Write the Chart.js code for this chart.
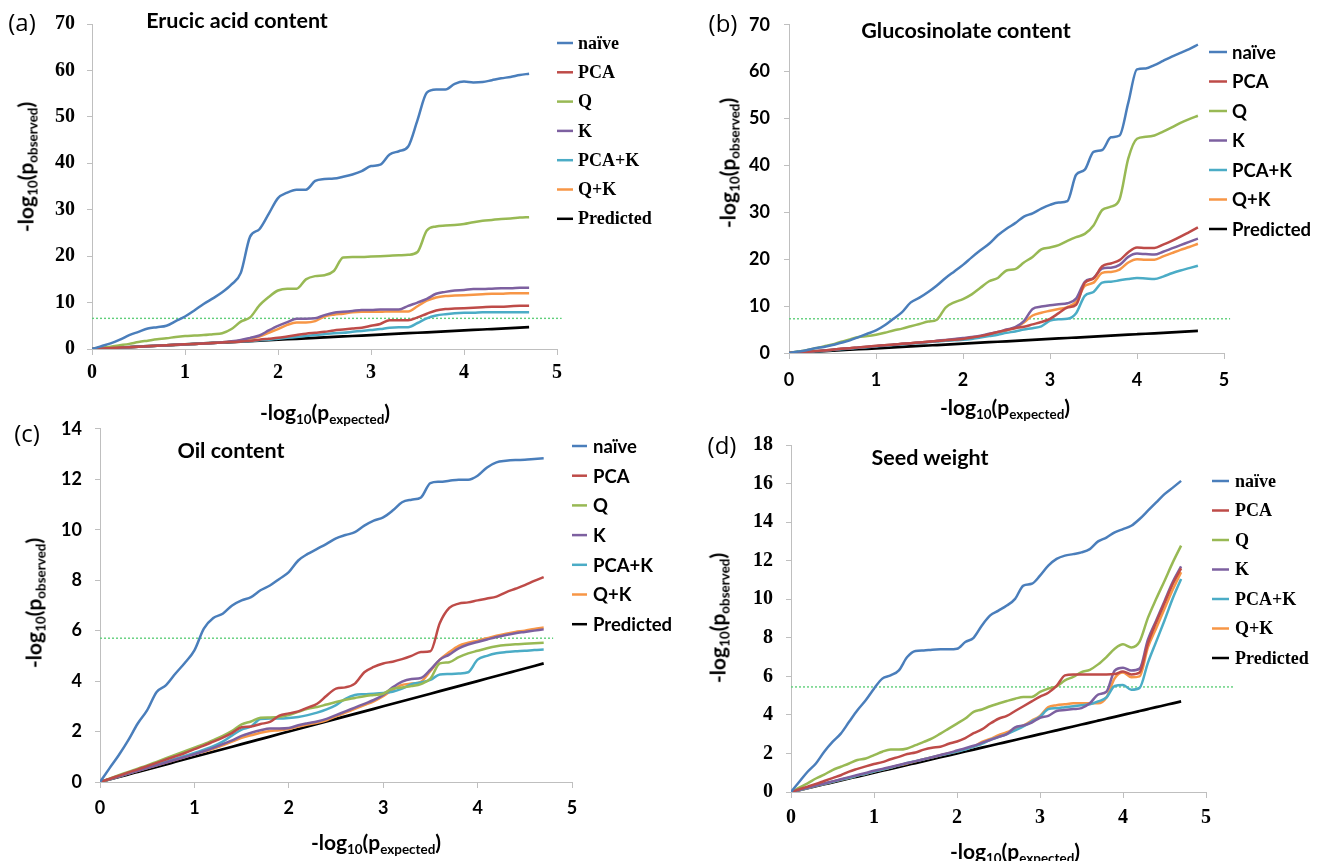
<!DOCTYPE html>
<html>
<head>
<meta charset="utf-8">
<script src="https://cdn.jsdelivr.net/npm/chart.js@4.4.1/dist/chart.umd.min.js"></script>
<style>
  html, body { margin:0; padding:0; background:#fff; }
  #page { position:relative; width:1328px; height:861px; overflow:hidden; background:#fff; }
  canvas { position:absolute; }
  .txt { position:absolute; white-space:nowrap; color:#000; transform:translate(-50%,-50%); }
  .plabel { font-family:"Open Sans","DejaVu Sans",sans-serif; font-size:24px; }
  .ptitle { font-family:Lato,"Open Sans",sans-serif; font-weight:bold; font-size:21.5px; }
  .atitle { font-family:Lato,"Open Sans",sans-serif; font-weight:bold; font-size:21px; }
  .rot { transform:translate(-50%,-50%) rotate(-90deg); }
  .sb { font-size:0.64em; position:relative; top:0.32em; }
</style>
</head>
<body>
<div id="page"></div>
<script>
// ---------- data ----------
const xExpected = [0,0.1,0.2,0.3,0.4,0.5,0.6,0.7,0.8,0.9,1.0,1.1,1.2,1.3,1.4,1.5,1.6,1.7,1.8,1.9,2.0,2.1,2.2,2.3,2.4,2.5,2.6,2.7,2.8,2.9,3.0,3.1,3.2,3.3,3.4,3.5,3.6,3.7,3.8,3.9,4.0,4.1,4.2,4.3,4.4,4.5,4.6,4.7];
const predicted = [0,0.1,0.2,0.3,0.4,0.5,0.6,0.7,0.8,0.9,1.0,1.1,1.2,1.3,1.4,1.5,1.6,1.7,1.8,1.9,2.0,2.1,2.2,2.3,2.4,2.5,2.6,2.7,2.8,2.9,3.0,3.1,3.2,3.3,3.4,3.5,3.6,3.7,3.8,3.9,4.0,4.1,4.2,4.3,4.4,4.5,4.6,4.7];
const seriesNames = ["naïve","PCA","Q","K","PCA+K","Q+K","Predicted"];

// (a) Erucic acid content
const erucicNaive = [0,0.6,1.2,2.0,3.0,3.7,4.4,4.7,5.0,6.0,7.0,8.3,9.7,10.9,12.2,13.9,16.4,24.2,25.8,29.1,32.5,33.7,34.3,34.3,36.2,36.6,36.7,37.1,37.6,38.3,39.4,39.7,41.9,42.6,43.6,49.3,55.2,55.9,55.9,57.1,57.6,57.4,57.5,57.9,58.3,58.6,59.0,59.3];
const erucicPCA   = [0,0.1,0.2,0.3,0.4,0.5,0.6,0.7,0.8,0.9,1.0,1.1,1.2,1.3,1.4,1.5,1.6,1.75,2.0,2.2,2.4,2.7,3.0,3.3,3.5,3.7,4.0,4.2,4.4,4.6,5.0,5.4,6.2,6.2,6.2,6.8,7.6,8.3,8.6,8.7,8.8,8.9,9.0,9.1,9.1,9.2,9.3,9.3];
const erucicQ     = [0,0.3,0.5,0.8,1.1,1.5,1.8,2.1,2.3,2.6,2.8,2.9,3.0,3.2,3.4,4.3,5.9,6.8,9.4,11.2,12.6,13.0,13.0,15.0,15.7,15.9,16.8,19.7,19.8,19.8,19.9,20.0,20.1,20.2,20.3,20.9,25.5,26.4,26.6,26.7,26.9,27.3,27.6,27.8,28.0,28.1,28.3,28.4];
const erucicK     = [0,0.1,0.2,0.3,0.4,0.5,0.6,0.7,0.8,0.9,1.0,1.1,1.2,1.3,1.45,1.65,1.95,2.4,2.9,4.0,5.0,5.8,6.5,6.5,6.6,7.3,7.8,8.0,8.2,8.4,8.4,8.5,8.5,8.5,9.3,10.0,10.8,11.9,12.3,12.6,12.7,12.9,12.9,13.0,13.1,13.1,13.2,13.2];
const erucicPCAK  = [0,0.1,0.2,0.3,0.4,0.5,0.6,0.7,0.8,0.9,1.0,1.1,1.2,1.3,1.4,1.5,1.6,1.7,1.9,2.0,2.2,2.4,2.6,2.8,3.0,3.2,3.4,3.5,3.7,3.9,4.1,4.3,4.6,4.7,4.7,5.6,6.6,7.2,7.5,7.7,7.8,7.8,7.9,7.9,7.9,7.9,7.9,7.9];
const erucicQK    = [0,0.1,0.2,0.3,0.4,0.5,0.6,0.7,0.8,0.9,1.0,1.1,1.2,1.3,1.45,1.6,1.85,2.2,2.7,3.5,4.3,5.2,5.7,5.7,6.0,7.0,7.4,7.6,7.9,8.0,8.0,8.0,8.1,8.1,8.1,9.2,10.4,11.1,11.4,11.5,11.6,11.7,11.8,11.9,11.9,12.0,12.0,12.0];
const erucicThreshold = [6.6, 6.6];
const erucicThresholdX = [0, 5.05];

// (b) Glucosinolate content
const glucoNaive = [0,0.3,0.6,1.0,1.3,1.7,2.2,2.7,3.4,4.1,4.8,5.9,7.3,8.7,10.8,11.8,13.0,14.4,16.0,17.4,18.8,20.4,21.9,23.3,25.1,26.5,27.7,29.1,29.8,30.8,31.6,32.1,32.4,38.0,39.1,42.9,43.3,46.0,46.4,53.4,60.5,60.7,61.4,62.3,63.2,64.0,64.8,65.8];
const glucoPCA   = [0,0.1,0.25,0.4,0.55,0.7,0.9,1.0,1.2,1.35,1.5,1.65,1.8,1.95,2.1,2.25,2.4,2.55,2.7,2.85,3.0,3.3,3.6,4.0,4.5,4.9,5.3,5.6,6.1,6.6,7.3,8.5,9.7,10.3,15.0,15.9,18.5,19.1,19.8,21.5,22.5,22.4,22.4,23.1,23.9,24.8,25.8,26.8];
const glucoQ     = [0,0.3,0.6,1.0,1.4,1.8,2.4,2.9,3.4,3.6,3.9,4.3,4.8,5.2,5.7,6.2,6.7,7.1,9.7,10.8,11.5,12.5,13.9,15.3,16.0,17.6,17.9,19.3,20.5,22.1,22.5,23.0,23.9,24.7,25.4,27.2,30.5,31.2,32.8,41.5,45.7,46.1,46.4,47.2,48.1,49.1,49.9,50.6];
const glucoK     = [0,0.1,0.25,0.4,0.55,0.7,0.9,1.0,1.2,1.35,1.5,1.65,1.8,1.95,2.1,2.25,2.4,2.6,2.8,3.0,3.2,3.4,3.7,4.1,4.5,5.0,5.5,6.8,9.4,9.9,10.2,10.4,10.6,11.6,15.2,16.0,18.0,18.2,18.8,20.5,21.2,21.1,21.0,21.6,22.3,23.0,23.7,24.4];
const glucoPCAK  = [0,0.1,0.22,0.35,0.5,0.65,0.8,0.95,1.1,1.25,1.4,1.55,1.7,1.85,2.0,2.15,2.3,2.45,2.6,2.7,2.8,3.0,3.3,3.6,3.9,4.3,4.6,5.0,5.3,5.7,6.9,7.2,7.3,8.5,12.2,13.0,15.0,15.2,15.5,15.8,16.0,15.9,15.8,16.3,17.0,17.6,18.1,18.6];
const glucoQK    = [0,0.1,0.25,0.4,0.55,0.7,0.9,1.0,1.2,1.35,1.5,1.65,1.8,1.95,2.1,2.25,2.4,2.55,2.7,2.9,3.1,3.2,3.5,3.9,4.3,4.8,5.4,6.5,8.0,8.6,9.0,9.4,9.8,10.9,14.3,15.0,17.1,17.3,17.8,19.3,20.0,19.9,19.9,20.6,21.3,22.0,22.6,23.3];
const glucoThreshold = [7.3, 7.3];
const glucoThresholdX = [0, 5.07];

// (c) Oil content
const oilNaive = [0,0.54,1.07,1.66,2.32,2.85,3.57,3.84,4.30,4.73,5.22,6.08,6.5,6.67,7.0,7.2,7.33,7.6,7.79,8.05,8.32,8.78,9.04,9.24,9.44,9.66,9.79,9.9,10.16,10.36,10.49,10.76,11.09,11.19,11.28,11.85,11.9,11.94,11.98,11.98,12.14,12.47,12.67,12.73,12.76,12.77,12.8,12.83];
const oilPCA   = [0,0.12,0.25,0.38,0.5,0.63,0.76,0.89,1.02,1.15,1.3,1.44,1.6,1.76,1.95,2.17,2.2,2.3,2.38,2.63,2.72,2.8,2.95,3.1,3.42,3.7,3.75,3.9,4.35,4.56,4.7,4.77,4.87,5.0,5.15,5.18,6.3,6.9,7.07,7.12,7.2,7.27,7.35,7.52,7.66,7.8,7.97,8.12];
const oilQ     = [0,0.13,0.27,0.4,0.53,0.66,0.8,0.94,1.08,1.22,1.36,1.5,1.66,1.83,2.03,2.28,2.4,2.55,2.56,2.58,2.65,2.78,2.9,2.97,3.07,3.17,3.26,3.33,3.4,3.45,3.5,3.7,3.75,3.8,3.88,4.1,4.7,4.75,4.95,5.1,5.2,5.3,5.38,5.43,5.46,5.48,5.5,5.52];
const oilK     = [0,0.11,0.22,0.33,0.44,0.55,0.66,0.77,0.88,0.99,1.1,1.22,1.35,1.5,1.65,1.83,1.95,2.05,2.12,2.12,2.14,2.25,2.33,2.4,2.5,2.65,2.8,2.95,3.1,3.25,3.45,3.75,3.98,4.08,4.12,4.45,4.85,5.05,5.3,5.45,5.55,5.65,5.75,5.83,5.9,5.95,6.0,6.05];
const oilPCAK  = [0,0.11,0.23,0.34,0.46,0.57,0.69,0.8,0.92,1.03,1.15,1.28,1.42,1.6,1.85,2.08,2.2,2.5,2.52,2.52,2.54,2.58,2.65,2.75,2.88,3.05,3.3,3.45,3.48,3.5,3.53,3.58,3.7,3.88,3.95,4.05,4.26,4.28,4.3,4.35,4.85,5.0,5.1,5.15,5.18,5.2,5.23,5.25];
const oilQK    = [0,0.11,0.22,0.33,0.44,0.55,0.66,0.77,0.88,0.99,1.1,1.2,1.32,1.45,1.6,1.75,1.85,1.95,2.02,2.05,2.1,2.2,2.28,2.35,2.45,2.6,2.75,2.9,3.05,3.2,3.4,3.65,3.85,3.9,3.97,4.4,4.85,5.15,5.4,5.52,5.6,5.7,5.8,5.88,5.95,6.0,6.07,6.12];
const oilThreshold = [5.7, 5.7];
const oilThresholdX = [0, 4.8];

// (d) Seed weight
const seedNaive = [0,0.53,1.05,1.48,2.09,2.6,3.03,3.64,4.24,4.76,5.36,5.88,6.05,6.31,7.0,7.31,7.34,7.38,7.4,7.4,7.43,7.78,8.0,8.64,9.16,9.41,9.67,10.02,10.71,10.8,11.22,11.74,12.09,12.26,12.34,12.43,12.6,13.0,13.2,13.47,13.64,13.81,14.16,14.59,15.02,15.45,15.79,16.14];
const seedPCA   = [0,0.14,0.28,0.42,0.57,0.72,0.87,1.06,1.2,1.33,1.45,1.55,1.7,1.82,1.97,2.05,2.2,2.3,2.35,2.5,2.62,2.8,3.05,3.25,3.55,3.8,3.95,4.2,4.45,4.7,4.95,5.15,5.5,6.05,6.1,6.1,6.1,6.1,6.1,6.12,6.25,6.1,6.2,7.7,8.8,9.8,10.8,11.6];
const seedQ     = [0,0.23,0.45,0.7,0.9,1.14,1.31,1.48,1.66,1.74,1.91,2.09,2.2,2.2,2.26,2.43,2.6,2.78,3.03,3.29,3.55,3.81,4.16,4.28,4.45,4.59,4.72,4.84,4.93,4.93,5.19,5.36,5.48,5.79,5.97,6.22,6.34,6.62,7.0,7.43,7.66,7.5,7.8,9.03,10.02,10.95,11.91,12.78];
const seedK     = [0,0.11,0.22,0.33,0.44,0.55,0.66,0.77,0.88,0.99,1.1,1.2,1.3,1.4,1.5,1.6,1.7,1.8,1.92,2.03,2.15,2.27,2.4,2.55,2.7,2.86,3.0,3.35,3.45,3.6,3.85,3.95,4.2,4.25,4.3,4.35,4.6,5.05,5.2,6.3,6.45,6.3,6.4,7.9,8.9,9.9,10.9,11.7];
const seedPCAK  = [0,0.1,0.21,0.32,0.42,0.53,0.64,0.74,0.85,0.95,1.06,1.16,1.27,1.38,1.5,1.6,1.7,1.8,1.9,2.0,2.1,2.2,2.35,2.5,2.7,2.85,3.0,3.2,3.4,3.65,3.9,4.3,4.35,4.4,4.45,4.5,4.55,4.7,4.9,5.5,5.55,5.3,5.4,6.7,7.8,8.9,10.05,11.05];
const seedQK    = [0,0.1,0.21,0.32,0.42,0.53,0.64,0.74,0.85,0.95,1.06,1.16,1.27,1.38,1.48,1.59,1.7,1.8,1.91,2.01,2.1,2.22,2.35,2.6,2.75,2.95,3.1,3.3,3.45,3.7,3.95,4.4,4.5,4.55,4.6,4.6,4.6,4.6,4.9,5.9,6.2,5.95,6.0,7.5,8.5,9.5,10.5,11.4];
const seedThreshold = [5.45, 5.45];
const seedThresholdX = [0, 5.33];

// y axis tick settings
const yMax  = [70, 70, 14, 18];
const yStep = [10, 10, 2, 2];
const xTicks = [0, 1, 2, 3, 4, 5];

// ---------- styling ----------
const colors = ["#4a7ebb", "#be4b48", "#98b954", "#7d60a0", "#4bacc6", "#f79646", "#000000"];
const SERIF = "'Liberation Serif','Times New Roman',serif";
const SANS  = "Lato,'Open Sans',sans-serif";

const panels = [
  { id:"a", series:[erucicNaive,erucicPCA,erucicQ,erucicK,erucicPCAK,erucicQK,predicted], th:erucicThreshold, thx:erucicThresholdX,
    box:{left:0, top:0, w:700, h:420}, area:{l:92, t:19, r:557, b:349}, font:SERIF, tickSize:20, xPad:6, yPad:12,
    legend:{x1:557, x2:573, tx:578, y0:43, dy:29.3, size:18},
    label:{x:22, y:21}, title:{text:"Erucic acid content", x:237, y:20},
    ytitle:{x:25, y:167}, xtitle:{x:325, y:411} },
  { id:"b", series:[glucoNaive,glucoPCA,glucoQ,glucoK,glucoPCAK,glucoQK,predicted], th:glucoThreshold, thx:glucoThresholdX,
    box:{left:664, top:0, w:664, h:420}, area:{l:125, t:19, r:560, b:353}, font:SANS, tickSize:18, xPad:10, yPad:14,
    legend:{x1:545, x2:563, tx:568, y0:52, dy:29.5, size:18.5},
    label:{x:723, y:22}, title:{text:"Glucosinolate content", x:966, y:30},
    ytitle:{x:727, y:163}, xtitle:{x:1005, y:406} },
  { id:"c", series:[oilNaive,oilPCA,oilQ,oilK,oilPCAK,oilQK,predicted], th:oilThreshold, thx:oilThresholdX,
    box:{left:0, top:405, w:700, h:456}, area:{l:100, t:23, r:572, b:377}, font:SANS, tickSize:18, xPad:9, yPad:13,
    legend:{x1:572, x2:587, tx:593, y0:41, dy:29.7, size:18.5},
    label:{x:27, y:432}, title:{text:"Oil content", x:231, y:450},
    ytitle:{x:33, y:603}, xtitle:{x:376, y:841} },
  { id:"d", series:[seedNaive,seedPCA,seedQ,seedK,seedPCAK,seedQK,predicted], th:seedThreshold, thx:seedThresholdX,
    box:{left:664, top:420, w:664, h:441}, area:{l:127, t:24, r:542, b:372}, font:SERIF, tickSize:20, xPad:8, yPad:13,
    legend:{x1:548, x2:565, tx:571, y0:61, dy:29.5, size:18},
    label:{x:722, y:444}, title:{text:"Seed weight", x:930, y:457},
    ytitle:{x:717, y:618}, xtitle:{x:1015, y:850} }
];

// legend drawn on canvas at fixed position from dataset labels/colors
const qqLegend = {
  id: "qqLegend",
  afterDraw(chart, args, opts) {
    const ctx = chart.ctx;
    ctx.save();
    const items = chart.data.datasets.filter(d => !d.isThreshold);
    items.forEach((d, i) => {
      const y = opts.y0 + i * opts.dy;
      ctx.strokeStyle = d.borderColor;
      ctx.lineWidth = 2.5;
      ctx.beginPath();
      ctx.moveTo(opts.x1, y);
      ctx.lineTo(opts.x2, y);
      ctx.stroke();
      ctx.fillStyle = "#000";
      ctx.font = "bold " + opts.size + "px " + opts.font;
      ctx.textBaseline = "middle";
      ctx.textAlign = "left";
      ctx.fillText(d.label, opts.tx, y + 1);
    });
    ctx.restore();
  }
};

const page = document.getElementById("page");

function addText(cls, html, x, y) {
  const d = document.createElement("div");
  d.className = "txt " + cls;
  d.innerHTML = html;
  d.style.left = x + "px";
  d.style.top = y + "px";
  page.appendChild(d);
  return d;
}

panels.forEach((p, pi) => {
  const cv = document.createElement("canvas");
  cv.width = p.box.w; cv.height = p.box.h;
  cv.style.left = p.box.left + "px"; cv.style.top = p.box.top + "px";
  cv.style.width = p.box.w + "px"; cv.style.height = p.box.h + "px";
  page.appendChild(cv);

  const datasets = p.series.map((vals, si) => ({
    label: seriesNames[si],
    data: xExpected.map((x, k) => ({ x: x, y: vals[k] })),
    borderColor: colors[si],
    backgroundColor: colors[si],
    borderWidth: si === 6 ? 2.7 : 2.5,
    pointRadius: 0,
    cubicInterpolationMode: "monotone",
    fill: false,
    order: si === 6 ? 10 : si
  }));
  datasets.push({
    label: "threshold",
    isThreshold: true,
    data: p.thx.map((x, k) => ({ x: x, y: p.th[k] })),
    borderColor: "#5fcf7a",
    borderWidth: 1.4,
    borderDash: [2, 2],
    pointRadius: 0,
    clip: false,
    order: 20
  });

  const a = p.area;
  new Chart(cv, {
    type: "line",
    data: { datasets },
    options: {
      responsive: false,
      animation: false,
      devicePixelRatio: 1,
      layout: { padding: { left: 0, top: a.t, right: p.box.w - a.r, bottom: 0 } },
      plugins: {
        legend: { display: false },
        tooltip: { enabled: false },
        qqLegend: {
          font: p.font,
          x1: p.legend.x1, x2: p.legend.x2, tx: p.legend.tx,
          y0: p.legend.y0, dy: p.legend.dy, size: p.legend.size
        }
      },
      scales: {
        x: {
          type: "linear", min: 0, max: 5,
          afterBuildTicks: (s) => { s.ticks = xTicks.map(v => ({ value: v })); },
          afterFit: (s) => { s.height = p.box.h - a.b; },
          grid: { drawOnChartArea: false, drawTicks: true, tickLength: 6, color: "#bfbfbf", lineWidth: 1 },
          border: { display: true, color: "#bfbfbf", width: 1 },
          ticks: { color: "#000", padding: p.xPad, font: { family: p.font, size: p.tickSize, weight: "bold" } }
        },
        y: {
          type: "linear", min: 0, max: yMax[pi],
          ticks: { stepSize: yStep[pi], color: "#000", padding: p.yPad, font: { family: p.font, size: p.tickSize, weight: "bold" } },
          afterFit: (s) => { s.width = a.l; },
          grid: { drawOnChartArea: false, drawTicks: true, tickLength: 5, color: "#bfbfbf", lineWidth: 1 },
          border: { display: true, color: "#bfbfbf", width: 1 }
        }
      }
    },
    plugins: [qqLegend]
  });

  addText("plabel", "(" + p.id + ")", p.label.x, p.label.y);
  addText("ptitle", p.title.text, p.title.x, p.title.y);
  addText("atitle rot", "-log<span class='sb'>10</span>(p<span class='sb'>observed</span>)", p.ytitle.x, p.ytitle.y);
  addText("atitle", "-log<span class='sb'>10</span>(p<span class='sb'>expected</span>)", p.xtitle.x, p.xtitle.y);
});
</script>
</body>
</html>
